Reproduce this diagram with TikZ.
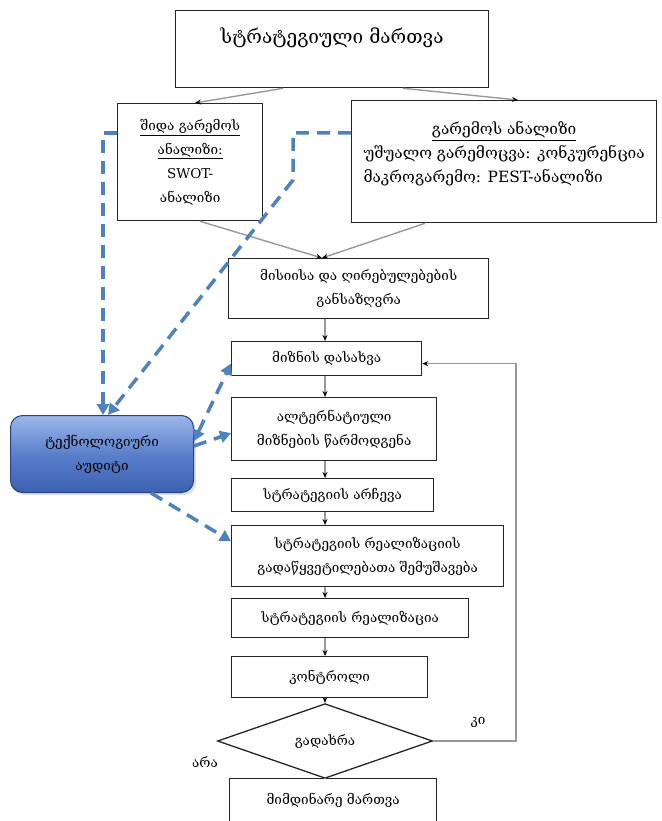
\documentclass[tikz,border=0pt]{standalone}
\usepackage{fontspec}
\setmainfont{DejaVu Serif}
\usepackage{tikz}
\usetikzlibrary{arrows.meta,shapes.geometric,shadows}

\definecolor{dashblue}{HTML}{4F81BD}
\definecolor{auditlight}{HTML}{9DB6E8}
\definecolor{auditmid}{HTML}{5A80CC}
\definecolor{auditdark}{HTML}{3A60B0}

\begin{document}
\begin{tikzpicture}[x=1pt,y=-1pt,>={Stealth[length=6pt,width=5pt,black]},
    font=\fontsize{13.5}{24}\selectfont]
  \tikzstyle{stage}=[draw=black!85,line width=1.3pt,anchor=north west,align=center,inner sep=0pt]
  \tikzstyle{flow}=[draw=black!40,line width=1.4pt,->]
  \tikzstyle{dashflow}=[draw=dashblue,line width=3.5pt,dash pattern=on 13pt off 8pt,
    -{Triangle[length=11pt,width=12pt,dashblue]}]

  \useasboundingbox (0,0) rectangle (661,821);
  \coordinate (spine) at (325,0);

  % top and analysis boxes
  \node[stage,minimum width=313,minimum height=77] (top) at (175,10) {};
  \node[font=\fontsize{19}{24}\selectfont] (toptext) at ([yshift=-28pt]top.north) {სტრატეგიული მართვა};

  \node[stage,minimum width=145,minimum height=117] (inner) at (117,103)
    {\underline{შიდა გარემოს}\\ \underline{ანალიზი:}\\ SWOT-\\ ანალიზი};

  \node[stage,minimum width=305,minimum height=122] (envbox) at (351,100) {};
  \node[anchor=north,inner sep=0pt,font=\fontsize{15.5}{24}\selectfont] (envtext) at ([yshift=-18pt]envbox.north)
    {\begin{tabular}{@{}l@{}}
      \multicolumn{1}{@{}c@{}}{\underline{გარემოს ანალიზი}}\\
      უშუალო გარემოცვა: კონკურენცია\\
      მაკროგარემო: PEST-ანალიზი
    \end{tabular}};

  % main chain
  \node[stage,minimum width=260,minimum height=60] (mission) at (228,258) {მისიისა და ღირებულებების\\ განსაზღვრა};
  \node[stage,minimum width=190,minimum height=34] (goal) at (231,341) {მიზნის დასახვა};
  \node[stage,minimum width=205,minimum height=63] (alt) at (231,397) {ალტერნატიული\\ მიზნების წარმოდგენა};
  \node[stage,minimum width=202,minimum height=33] (choice) at (231,478) {სტრატეგიის არჩევა};
  \node[stage,minimum width=272,minimum height=61] (decision) at (231,525) {სტრატეგიის რეალიზაციის\\ გადაწყვეტილებათა შემუშავება};
  \node[stage,minimum width=237,minimum height=39] (real) at (231,598) {სტრატეგიის რეალიზაცია};
  \node[stage,minimum width=196,minimum height=41] (control) at (231,656) {კონტროლი};
  \node[diamond,draw=black!85,line width=1.3pt,minimum width=215,minimum height=58,inner sep=0pt] (check) at (325,741) {გადახრა};
  \node[stage,minimum width=207,minimum height=45] (current) at (229,778) {\raisebox{5pt}{მიმდინარე მართვა}};

  \node (yes) at (478,722) {კი};
  \node (no) at (205,762) {არა};

  % audit
  \node[draw=auditdark!70!black,line width=1pt,rounded corners=12pt,top color=auditlight,bottom color=auditdark,
    middle color=auditmid,drop shadow={opacity=0.25},minimum width=183,minimum height=77,anchor=north west,align=center] (audit) at (10,415)
    {ტექნოლოგიური\\ აუდიტი};

  % connectors
  \draw[flow] ([xshift=108pt]top.south west) -- ([xshift=78pt]inner.north west);
  \draw[flow] ([xshift=228pt]top.south west) -- ([xshift=167pt]envbox.north west);
  \draw[flow] ([xshift=83pt]inner.south west) -- ([xshift=94pt]mission.north west);
  \draw[flow] ([xshift=74pt]envbox.south west) -- ([xshift=94pt]mission.north west);

  \draw[flow] (mission.south -| spine) -- (goal.north -| spine);
  \draw[flow] (goal.south -| spine) -- (alt.north -| spine);
  \draw[flow] (alt.south -| spine) -- (choice.north -| spine);
  \draw[flow] (choice.south -| spine) -- (decision.north -| spine);
  \draw[flow] (decision.south -| spine) -- (real.north -| spine);
  \draw[flow] (real.south -| spine) -- (control.north -| spine);
  \draw[flow] (control.south -| spine) -- (check.north);
  \draw[flow,-] (check.south) -- (current.north -| check.south);
  \draw[flow] (check.east) -- ++(83,0) |- ([yshift=-5pt]goal.east);

  % audit links
  \draw[dashflow] ([yshift=-30pt]inner.north west) -| ([xshift=93pt]audit.north west);
  \draw[dashflow] ([yshift=-33pt]envbox.north west) -- ++(-58,0) -- ++(0,47) -- ([xshift=98pt]audit.north west);
  \draw[dashflow,{Triangle[length=11pt,width=12pt,dashblue]}-{Triangle[length=11pt,width=12pt,dashblue]}]
    ([yshift=13pt]audit.east) -- ([yshift=-5pt]goal.west);
  \draw[dashflow] ([yshift=8pt]audit.east) -- ([yshift=-4pt]alt.west);
  \draw[dashflow] ([xshift=-43pt]audit.south east) -- ([yshift=15pt]decision.west);
\end{tikzpicture}
\end{document}
